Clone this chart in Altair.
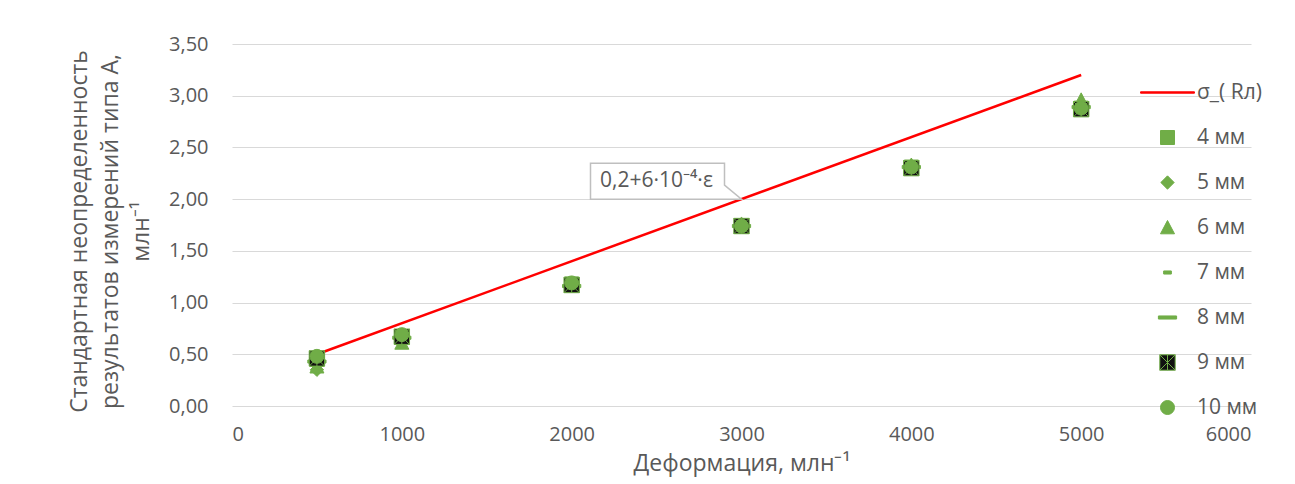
import altair as alt
import pandas as pd

# Deformation levels, млн⁻¹
deformation = [500, 1000, 2000, 3000, 4000, 5000]

# Type-A standard uncertainty per gauge base length
s_4mm = [0.45, 0.67, 1.18, 1.74, 2.31, 2.88]
s_5mm = [0.35, 0.63, 1.16, 1.74, 2.30, 2.88]
s_6mm = [0.38, 0.61, 1.17, 1.76, 2.33, 2.96]
s_7mm = [0.43, 0.66, 1.16, 1.74, 2.31, 2.89]
s_8mm = [0.43, 0.66, 1.16, 1.74, 2.31, 2.89]
s_9mm = [0.46, 0.67, 1.17, 1.74, 2.30, 2.87]
s_10mm = [0.48, 0.69, 1.19, 1.74, 2.31, 2.88]

# Limit line σ = 0,2 + 6·10⁻⁴·ε at its two end points
limit_x = [500, 5000]
limit_y = [0.5, 3.2]

series_names = ["σ_( Rл)", "4 мм", "5 мм", "6 мм", "7 мм", "8 мм", "9 мм", "10 мм"]
x_ticks = [0, 1000, 2000, 3000, 4000, 5000, 6000]
y_ticks = [0.0, 0.5, 1.0, 1.5, 2.0, 2.5, 3.0, 3.5]
formula_label = "0,2+6·10⁻⁴·ε"

GREEN = "#70AD47"
RED = "#FF0000"
TEXT = "#595959"
FONT = "Open Sans"

# Marker shapes (unit = 7 px at size 196)
shapes = [
    "M-3.85,-0.1H3.85V0.1H-3.85Z",            # line sample for the limit
    "square",
    "M0,-0.95L0.95,0L0,0.95L-0.95,0Z",        # diamond
    "M0,-1L1,0.9H-1Z",                         # triangle
    "M-0.55,-0.22H0.55V0.22H-0.55Z",          # short dash
    "M-1.3,-0.22H1.3V0.22H-1.3Z",             # long dash
    "M-1.1,-1.1H1.1V1.1H-1.1Z M0,-1.1V1.1 M-1.1,-1.1L1.1,1.1 M1.1,-1.1L-1.1,1.1",  # star in box
    "circle",
]
fills = [RED, GREEN, GREEN, GREEN, GREEN, GREEN, "#111111", GREEN]
strokes = [RED, GREEN, GREEN, GREEN, GREEN, GREEN, GREEN, GREEN]

rows = []
for name, vals in zip(series_names[1:], [s_4mm, s_5mm, s_6mm, s_7mm, s_8mm, s_9mm, s_10mm]):
    for d, v in zip(deformation, vals):
        rows.append({"deformation": d, "value": v, "series": name})
points_df = pd.DataFrame(rows)
limit_df = pd.DataFrame({"deformation": limit_x, "value": limit_y})

x_enc = alt.X(
    "deformation:Q",
    scale=alt.Scale(domain=[0, 6000], nice=False),
    axis=alt.Axis(
        values=x_ticks, format="d", title="Деформация, млн⁻¹",
        grid=False, domain=False, ticks=False, labelPadding=18, titlePadding=8,
    ),
)
y_enc = alt.Y(
    "value:Q",
    scale=alt.Scale(domain=[0, 3.5], nice=False),
    axis=alt.Axis(
        values=y_ticks,
        labelExpr="replace(format(datum.value, '.2f'), '.', ',')",
        title=["Стандартная неопределенность", "результатов измерений типа А,", "млн⁻¹"],
        grid=True, gridColor="#D9D9D9", gridWidth=1,
        domain=False, ticks=False, labelPadding=24,
        titleX=-153, titleY=187, titleAngle=-90, titleAlign="center",
        titleBaseline="middle", titleLineHeight=31,
    ),
)

legend = alt.Legend(
    title=None, orient="none", legendX=925, legendY=38,
    symbolSize=196, symbolStrokeWidth=1, labelOffset=19,
    rowPadding=23, padding=0, labelFontSize=21, labelColor=TEXT, labelFont=FONT,
)

limit_line = alt.Chart(limit_df).mark_line(color=RED, strokeWidth=2.5).encode(
    x=x_enc, y=y_enc
)

points = alt.Chart(points_df).mark_point(
    filled=True, size=196, opacity=1, strokeWidth=1
).encode(
    x="deformation:Q",
    y="value:Q",
    shape=alt.Shape("series:N", scale=alt.Scale(domain=series_names, range=shapes), legend=legend),
    fill=alt.Fill("series:N", scale=alt.Scale(domain=series_names, range=fills), legend=legend),
    stroke=alt.Stroke("series:N", scale=alt.Scale(domain=series_names, range=strokes), legend=legend),
)

# Callout box whose tail points at the limit line at ε = 3000
callout_box = alt.Chart(limit_df.head(1)).mark_point(
    shape="M-151,-36H-17V-14L0,0H-151Z",
    size=4, filled=True, fill="white", stroke="#BFBFBF", strokeWidth=1.5, opacity=1,
).encode(x=alt.datum(3000), y=alt.datum(2.0))

callout_text = alt.Chart(limit_df.head(1)).mark_text(
    text=formula_label, dx=-85, dy=-18, align="center", baseline="middle",
    fontSize=21, color=TEXT, font=FONT,
).encode(x=alt.datum(3000), y=alt.datum(2.0))

chart = alt.layer(limit_line, points, callout_box, callout_text).properties(
    width=1019, height=362,
    padding={"left": 232, "top": 44, "right": 44, "bottom": 78},
    autosize=alt.AutoSizeParams(type="none"),
    background="white",
).configure_view(stroke=None).configure_axis(
    labelFont=FONT, labelFontSize=20, labelColor=TEXT,
    titleFont=FONT, titleFontSize=23, titleFontWeight="normal", titleColor=TEXT,
)

chart.save("out.html", embed_options={"renderer": "svg", "actions": False})
